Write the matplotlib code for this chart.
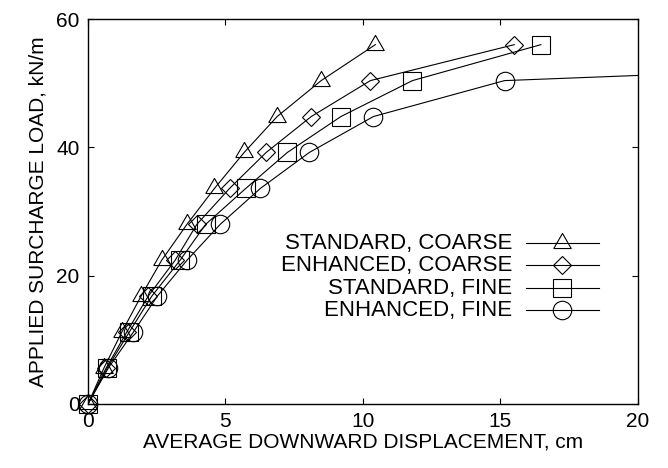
import numpy as np
import matplotlib.pyplot as plt

plt.rcParams['font.family'] = ['Liberation Sans', 'DejaVu Sans']
plt.rcParams['font.size'] = 15

load = [0, 5.6, 11.2, 16.8, 22.4, 28.0, 33.6, 39.2, 44.8, 50.4, 56.0]
std_coarse = [0, 0.58, 1.23, 1.93, 2.68, 3.60, 4.60, 5.68, 6.88, 8.48, 10.45]
enh_coarse = [0, 0.66, 1.41, 2.19, 3.17, 3.96, 5.15, 6.48, 8.12, 10.27, 15.50]
std_fine = [0, 0.70, 1.50, 2.32, 3.35, 4.28, 5.74, 7.25, 9.20, 11.80, 16.47]
enh_fine = [0, 0.74, 1.65, 2.52, 3.60, 4.81, 6.27, 8.05, 10.38, 15.15, 49.0]

labels = ["STANDARD, COARSE", "ENHANCED, COARSE", "STANDARD, FINE", "ENHANCED, FINE"]
tri = [(-1, -0.577), (1, -0.577), (0, 1.155), (-1, -0.577)]
markers = [tri, 'D', 's', 'o']
msizes = [14.5, 9, 13.5, 13.3]
series = [std_coarse, enh_coarse, std_fine, enh_fine]

fig = plt.figure(figsize=(6.68, 4.68), dpi=100)
ax = fig.add_axes([0.1317, 0.1368, 0.8233, 0.8226])

# legend drawn by hand (gnuplot style: text right-aligned, sample on the right)
leg_y = [0.418, 0.360, 0.301, 0.243]
for i, (xs, m, ms, lab) in enumerate(zip(series, markers, msizes, labels)):
    xs = np.array(xs)
    ys = np.array(load)
    ax.plot(xs, ys, '-', color='k', lw=0.8)
    inside = xs <= 20
    ax.plot(xs[inside], ys[inside], ls='none', marker=m, ms=ms, mfc='none',
            mec='k', mew=0.8, clip_on=False, zorder=3)

    ax.text(0.771, leg_y[i], lab, transform=ax.transAxes, ha='right',
            va='center', fontsize=16)
    ax.plot([0.796, 0.929], [leg_y[i], leg_y[i]], '-', color='k', lw=0.8,
            transform=ax.transAxes)
    ax.plot([0.862], [leg_y[i]], ls='none', marker=m, ms=ms, mfc='none',
            mec='k', mew=0.8, transform=ax.transAxes)

ax.set_xlim(0, 20)
ax.set_ylim(0, 60)
ax.set_xticks([0, 5, 10, 15, 20])
ax.set_yticks([0, 20, 40, 60])
ax.tick_params(direction='in', length=4.5, width=0.8, top=True, right=True, pad=6)
for s in ax.spines.values():
    s.set_linewidth(1.0)

ax.set_xlabel("AVERAGE DOWNWARD DISPLACEMENT, cm", labelpad=1)
ax.set_ylabel("APPLIED SURCHARGE LOAD, kN/m", labelpad=6)

fig.savefig("out.png", dpi=100)
